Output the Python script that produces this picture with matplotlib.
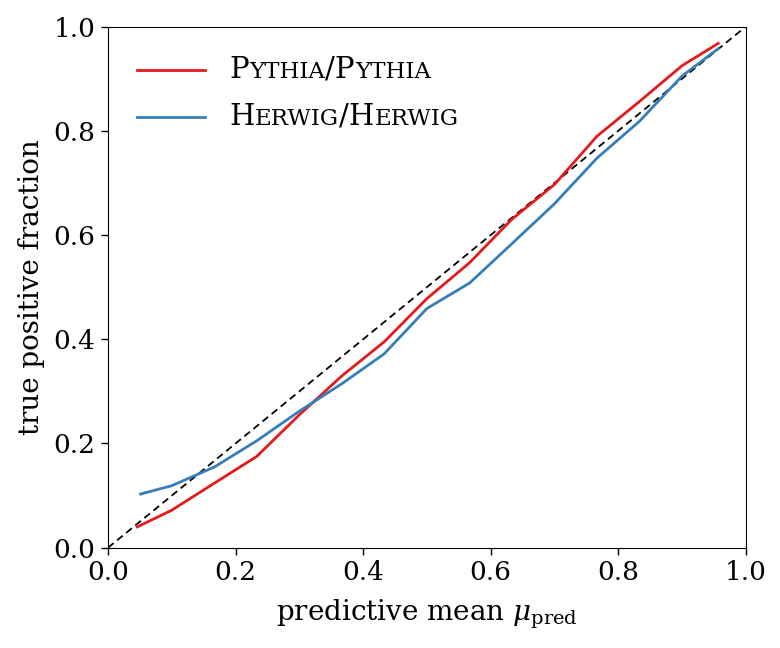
import matplotlib
matplotlib.use("Agg")
import matplotlib.pyplot as plt
from matplotlib.lines import Line2D
from matplotlib.offsetbox import AnchoredOffsetbox, VPacker, HPacker, TextArea, DrawingArea

plt.rcParams['font.family'] = ['DejaVu Serif']
plt.rcParams['mathtext.fontset'] = 'dejavuserif'

x_pythia = [0.046, 0.100, 0.167, 0.233, 0.300, 0.367, 0.433, 0.500, 0.567, 0.633, 0.700, 0.767, 0.833, 0.900, 0.957]
y_pythia = [0.040, 0.072, 0.124, 0.175, 0.255, 0.330, 0.395, 0.478, 0.547, 0.630, 0.697, 0.790, 0.856, 0.925, 0.968]

x_herwig = [0.051, 0.100, 0.167, 0.233, 0.300, 0.367, 0.433, 0.500, 0.567, 0.633, 0.700, 0.767, 0.833, 0.900, 0.957]
y_herwig = [0.103, 0.119, 0.155, 0.205, 0.262, 0.315, 0.372, 0.459, 0.508, 0.583, 0.660, 0.748, 0.818, 0.905, 0.958]

ticks = [0.0, 0.2, 0.4, 0.6, 0.8, 1.0]
red = '#e41a1c'
blue = '#377eb8'

fig = plt.figure(figsize=(7.8, 6.48), dpi=100)
ax = fig.add_axes([0.1385, 0.1548, 0.8175, 0.804])

ax.plot([0, 1], [0, 1], color='black', lw=1.3, ls=(0, (4, 2.5)))
ax.plot(x_pythia, y_pythia, color=red, lw=2)
ax.plot(x_herwig, y_herwig, color=blue, lw=2)

ax.set_xlim(0, 1)
ax.set_ylim(0, 1)
ax.set_xticks(ticks)
ax.set_yticks(ticks)
ax.set_xticklabels([f"{t:.1f}" for t in ticks])
ax.set_yticklabels([f"{t:.1f}" for t in ticks])
ax.tick_params(labelsize=19, length=5, width=1, direction='out', pad=4)
ax.set_xlabel(r"predictive mean $\mu_\mathrm{pred}$", fontsize=20, labelpad=9)
ax.set_ylabel("true positive fraction", fontsize=20, labelpad=6)


def smallcaps(parts, big=21, small=16.5):
    boxes = []
    for txt, is_big in parts:
        boxes.append(TextArea(txt, textprops=dict(fontsize=big if is_big else small, color='black')))
    return HPacker(children=boxes, sep=0, pad=0, align='baseline')


def row(color, parts):
    da = DrawingArea(49, 12, 0, 0)
    da.add_artist(Line2D([0, 49], [6, 6], color=color, lw=2))
    return HPacker(children=[da, smallcaps(parts)], sep=18, pad=0, align='center')


rows = [
    row(red, [("P", True), ("YTHIA", False), ("/P", True), ("YTHIA", False)]),
    row(blue, [("H", True), ("ERWIG", False), ("/H", True), ("ERWIG", False)]),
]
box = VPacker(children=rows, sep=13.5, pad=0, align='left')
anch = AnchoredOffsetbox(loc='upper left', child=box, pad=0, borderpad=0, frameon=False,
                         bbox_to_anchor=(0.045, 0.944), bbox_transform=ax.transAxes)
ax.add_artist(anch)

fig.savefig("out.png", dpi=100)
